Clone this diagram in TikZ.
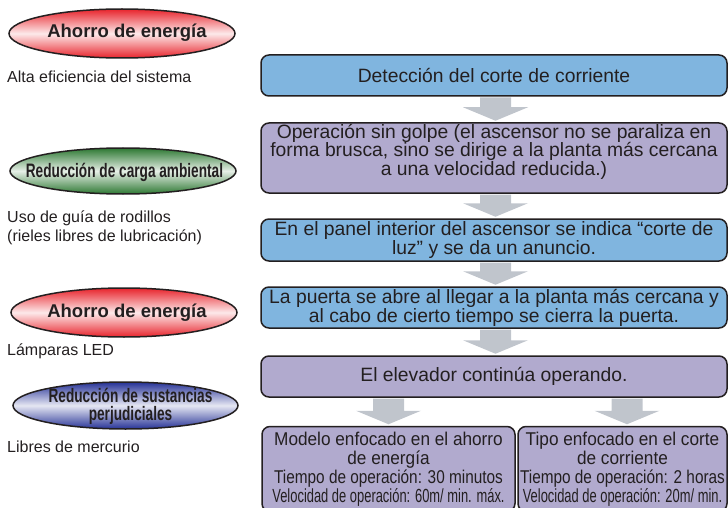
\documentclass[tikz,border=0pt]{standalone}
\usepackage{fontspec}
\setmainfont{Liberation Sans}
\newfontfamily\narrowbold[FakeStretch=0.70]{Liberation Sans}
\newfontfamily\narrowM[FakeStretch=0.93]{Liberation Sans}
\newfontfamily\narrowA[FakeStretch=0.83]{Liberation Sans}
\newfontfamily\narrowB[FakeStretch=0.68]{Liberation Sans}
\usetikzlibrary{shapes.geometric,calc}
\definecolor{boxblue}{RGB}{128,181,223}
\definecolor{boxpurple}{RGB}{177,170,206}
\definecolor{arrowgray}{RGB}{192,197,204}
\definecolor{ink}{RGB}{35,31,32}
\definecolor{elred}{RGB}{232,36,44}
\definecolor{elgreen}{RGB}{45,120,50}
\definecolor{elblue}{RGB}{38,50,150}
\tikzset{
  flowbox/.style={draw=ink, line width=1.5pt, rounded corners=8pt, text=ink, align=center, inner sep=0pt, minimum width=466pt, font=\fontsize{19.3}{19}\selectfont},
  bluebox/.style={flowbox, fill=boxblue},
  purplebox/.style={flowbox, fill=boxpurple},
  boxtext/.style={text=ink, align=center, inner sep=0pt, font=\fontsize{19.3}{18.5}\selectfont},
  smallbox/.style={draw=ink, line width=1.5pt, rounded corners=8pt, text=ink, align=center, inner sep=0pt, fill=boxpurple, font=\fontsize{18.5}{19}\selectfont\narrowM},
  oval/.style={ellipse, draw=ink, line width=1.5pt, inner sep=0pt},
  redoval/.style={oval, top color=elred, bottom color=elred, middle color=white!90!elred},
  greenoval/.style={oval, top color=elgreen, bottom color=elgreen, middle color=white!88!elgreen},
  blueoval/.style={oval, top color=elblue, bottom color=elblue, middle color=white!88!elblue},
  ovaltext/.style={text=ink, align=center, inner sep=0pt, font=\fontsize{18.5}{18}\selectfont\bfseries},
  ovalnarrow/.style={text=ink, align=center, inner sep=0pt, font=\fontsize{19.5}{18}\selectfont\narrowbold\bfseries},
  note/.style={anchor=west, align=left, inner sep=0pt, text=ink, font=\fontsize{16}{19}\selectfont}
}
\newcommand\flowarrow[3]{%
  \fill[arrowgray] let \p1=(#1.south), \p2=(#2.north) in
    (\x2+#3-15.5pt,\y1-0.75pt) -- (\x2+#3+15.5pt,\y1-0.75pt) -- (\x2+#3+15.5pt,\y2+15pt)
    -- (\x2+#3+32.5pt,\y2+15pt) -- (\x2+#3,\y2+1.5pt) -- (\x2+#3-32.5pt,\y2+15pt)
    -- (\x2+#3-15.5pt,\y2+15pt) -- cycle;}
\begin{document}
\begin{tikzpicture}[x=1pt,y=-1pt]
\useasboundingbox (0,0) rectangle (728,508);
\clip (0,0) rectangle (728,508);
% left column
\node[redoval, minimum width=226pt, minimum height=49pt] (e1) at (122,33.5) {};
\node[ovaltext] (e1t) at (127,33) {Ahorro de energía};
\node[note] (n1) at (7,77) {Alta eficiencia del sistema};
\node[greenoval, minimum width=226pt, minimum height=46pt] (e2) at (123,171) {};
\node[ovalnarrow] (e2t) at (124.5,172.5) {Reducción de carga ambiental};
\node[note] (n2) at (7,227.5) {Uso de guía de rodillos\\(rieles libres de lubricación)};
\node[redoval, minimum width=226pt, minimum height=49pt] (e3) at (124,312.5) {};
\node[ovaltext] (e3t) at (127,313) {Ahorro de energía};
\node[note] (n3) at (7,351) {Lámparas LED};
\node[blueoval, minimum width=225pt, minimum height=47pt] (e4) at (125.5,405.5) {};
\node[ovalnarrow] (e4t) at (130.5,406) {Reducción de sustancias\\perjudiciales};
\node[note] (n4) at (7,447) {Libres de mercurio};
% flow
\node[bluebox, minimum height=41pt] (b1) at (494,75.5) {Detección del corte de corriente};
\node[purplebox, minimum height=70pt] (b2) at (494,158) {};
\node[boxtext] (b2t) at (494,151.5) {Operación sin golpe (el ascensor no se paraliza en\\forma brusca, sino se dirige a la planta más cercana\\a una velocidad reducida.)};
\node[bluebox, minimum height=42pt] (b3) at (494,240) {En el panel interior del ascensor se indica “corte de\\luz” y se da un anuncio.};
\node[bluebox, minimum height=41pt] (b4) at (494,307.5) {La puerta se abre al llegar a la planta más cercana y\\al cabo de cierto tiempo se cierra la puerta.};
\node[purplebox, minimum height=41pt] (b5) at (494,376.5) {El elevador continúa operando.};
\node[smallbox, minimum width=253pt, minimum height=85pt] (b6) at (388.5,469) {Modelo enfocado en el ahorro\\de energía\\{\narrowA Tiempo de operación: 30 minutos}\\{\narrowB\fontsize{19}{19}\selectfont Velocidad de operación: 60m/ min. máx.}};
\node[smallbox, minimum width=209pt, minimum height=85pt] (b7) at (622.5,469) {Tipo enfocado en el corte\\de corriente\\{\narrowA Tiempo de operación: 2 horas}\\{\narrowB\fontsize{19}{19}\selectfont Velocidad de operación: 20m/ min.}};
\flowarrow{b1}{b2}{1.5pt}
\flowarrow{b2}{b3}{1.5pt}
\flowarrow{b3}{b4}{1.5pt}
\flowarrow{b4}{b5}{1.5pt}
\flowarrow{b5}{b6}{0pt}
\flowarrow{b5}{b7}{4.5pt}
\end{tikzpicture}
\end{document}
